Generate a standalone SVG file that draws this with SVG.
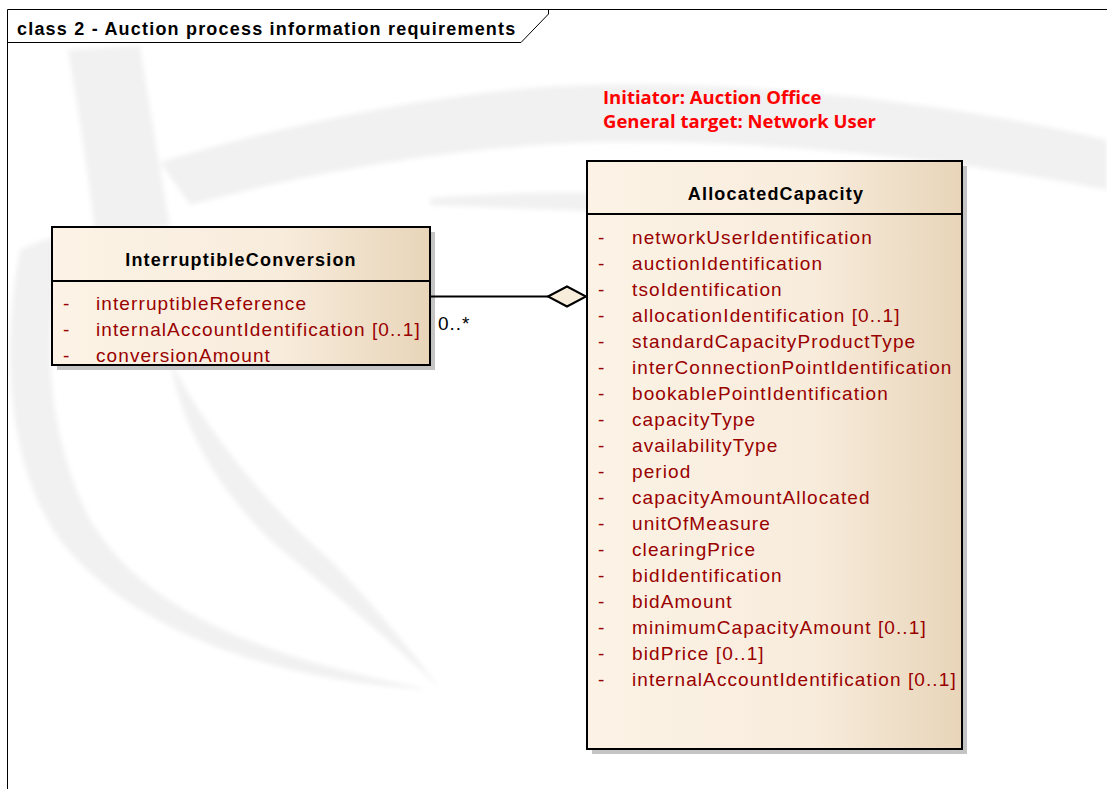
<svg xmlns="http://www.w3.org/2000/svg" width="1107" height="789" viewBox="0 0 1107 789">
<defs>
<linearGradient id="cls" x1="0" y1="0" x2="1" y2="0">
<stop offset="0" stop-color="#fcf3e6"/>
<stop offset="0.6" stop-color="#f8ecdc"/>
<stop offset="1" stop-color="#e8d5b9"/>
</linearGradient>
<filter id="soft" x="-5%" y="-5%" width="110%" height="110%">
<feGaussianBlur stdDeviation="2.5"/>
</filter>
<style>
.frame{fill:none;stroke:#000;stroke-width:1}
.title{font-family:"Liberation Sans",Arial,sans-serif;font-weight:bold;font-size:18px;letter-spacing:1.2px;fill:#000}
.note{font-family:"Open Sans","Liberation Sans",sans-serif;font-weight:bold;font-size:18.5px;fill:#ff0000}
.box{fill:url(#cls);stroke:#000;stroke-width:2}
.shadow{fill:#c4c4c4}
.sep{stroke:#000;stroke-width:2}
.cname{font-family:"Liberation Sans",Arial,sans-serif;font-weight:bold;font-size:18px;letter-spacing:1.2px;fill:#000;text-anchor:middle}
.attr{font-family:"Liberation Sans",Arial,sans-serif;font-size:19px;letter-spacing:1.1px;fill:#990000}
.mult{font-family:"Liberation Sans",Arial,sans-serif;font-size:19px;letter-spacing:1px;fill:#000}
.wm{fill:#f1f1f1}
</style>
</defs>
<rect x="0" y="0" width="1107" height="789" fill="#fff"/>
<g id="watermark" filter="url(#soft)">
<path class="wm" d="M68,50 L140,46 C150,110 160,170 170,226 L95,232 C88,170 78,110 68,50 Z"/>
<path class="wm" d="M160,162 C300,120 450,92 560,86 C760,78 960,105 1107,140 L1107,190 C960,160 780,140 600,142 C450,146 300,175 190,205 Z"/>
<path class="wm" d="M430,198 C600,185 800,195 960,232 C800,218 600,212 430,205 Z"/>
<path class="wm" d="M20,250 C40,240 60,235 75,232 C40,300 40,420 90,520 C150,620 280,660 430,690 C270,680 130,630 60,540 C10,470 0,360 20,250 Z"/>
<path class="wm" d="M170,360 C200,420 260,500 330,560 C370,600 410,650 440,688 C390,640 330,590 270,540 C210,480 180,420 170,360 Z"/>
</g>
<g id="frame">
<path class="frame" d="M7.5,789 L7.5,9.5 L1107,9.5"/>
<path class="frame" d="M7.5,42.5 L521,42.5 L548.5,14 L548.5,9.5"/>
<text class="title" x="17" y="35">class 2 - Auction process information requirements</text>
</g>
<g id="note">
<text class="note" x="603" y="104">Initiator: Auction Office</text>
<text class="note" x="603" y="128">General target: Network User</text>
</g>
<g id="InterruptibleConversion">
<rect class="shadow" x="57" y="232" width="378" height="138"/>
<rect class="box" x="52" y="227" width="378" height="138"/>
<line class="sep" x1="52" y1="281" x2="430" y2="281"/>
<text class="cname" x="241" y="266">InterruptibleConversion</text>
<text class="attr" x="63" y="310">-</text><text class="attr" x="96" y="310">interruptibleReference</text>
<text class="attr" x="63" y="336">-</text><text class="attr" x="96" y="336">internalAccountIdentification [0..1]</text>
<text class="attr" x="63" y="362">-</text><text class="attr" x="96" y="362">conversionAmount</text>
</g>
<g id="AllocatedCapacity">
<rect class="shadow" x="592" y="166" width="375" height="588"/>
<rect class="box" x="587" y="161" width="375" height="588"/>
<line class="sep" x1="587" y1="214" x2="962" y2="214"/>
<text class="cname" x="776" y="200">AllocatedCapacity</text>
<g class="attr">
<text x="598" y="244">-</text><text x="632" y="244">networkUserIdentification</text>
<text x="598" y="270">-</text><text x="632" y="270">auctionIdentification</text>
<text x="598" y="296">-</text><text x="632" y="296">tsoIdentification</text>
<text x="598" y="322">-</text><text x="632" y="322">allocationIdentification [0..1]</text>
<text x="598" y="348">-</text><text x="632" y="348">standardCapacityProductType</text>
<text x="598" y="374">-</text><text x="632" y="374">interConnectionPointIdentification</text>
<text x="598" y="400">-</text><text x="632" y="400">bookablePointIdentification</text>
<text x="598" y="426">-</text><text x="632" y="426">capacityType</text>
<text x="598" y="452">-</text><text x="632" y="452">availabilityType</text>
<text x="598" y="478">-</text><text x="632" y="478">period</text>
<text x="598" y="504">-</text><text x="632" y="504">capacityAmountAllocated</text>
<text x="598" y="530">-</text><text x="632" y="530">unitOfMeasure</text>
<text x="598" y="556">-</text><text x="632" y="556">clearingPrice</text>
<text x="598" y="582">-</text><text x="632" y="582">bidIdentification</text>
<text x="598" y="608">-</text><text x="632" y="608">bidAmount</text>
<text x="598" y="634">-</text><text x="632" y="634">minimumCapacityAmount [0..1]</text>
<text x="598" y="660">-</text><text x="632" y="660">bidPrice [0..1]</text>
<text x="598" y="686">-</text><text x="632" y="686">internalAccountIdentification [0..1]</text>
</g>
</g>
<g id="connectors">
<line x1="430" y1="296.5" x2="548" y2="296.5" stroke="#000" stroke-width="2"/>
<path d="M548,296.5 L567,286.5 L586,296.5 L567,306.5 Z" fill="#f8ecda" stroke="#000" stroke-width="2"/>
<text class="mult" x="438" y="330">0..*</text>
</g>
</svg>
